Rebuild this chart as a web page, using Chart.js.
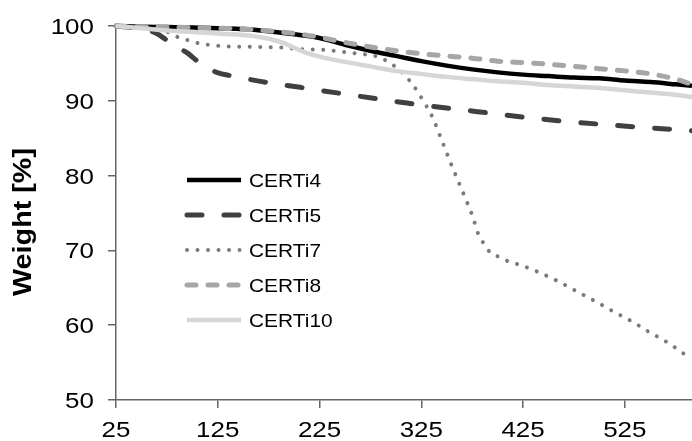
<!DOCTYPE html>
<html><head><meta charset="utf-8">
<script src="https://cdn.jsdelivr.net/npm/chart.js@4.4.1/dist/chart.umd.min.js"></script>
<style>html,body{margin:0;padding:0;background:#fff}canvas{display:block}</style>
</head><body>
<canvas id="c" width="692" height="441"></canvas>
<script>
const xTicks = [25, 125, 225, 325, 425, 525];
const yTicks = [50, 60, 70, 80, 90, 100];
const yTitle = 'Weight [%]';
const seriesNames = ['CERTi4', 'CERTi5', 'CERTi7', 'CERTi8', 'CERTi10'];

const temp4 = [25,50,75,100,125,150,175,200,225,250,275,300,325,350,375,400,425,450,475,500,525,550,575,591];
const weight4 = [100,99.9,99.85,99.8,99.7,99.6,99.3,98.9,98.4,97.5,96.7,96.0,95.3,94.7,94.2,93.8,93.5,93.3,93.1,93.0,92.7,92.5,92.2,92.0];

const temp5 = [25,40,55,65,75,85,95,108,124,140,167,206,245,311,383,455,527,591];
const weight5 = [100,99.8,99.5,99.0,98.1,97.2,96.4,95.0,93.8,93.3,92.6,91.8,91.0,89.7,88.5,87.4,86.6,86.0];

const temp7 = [25,50,70,86,96,106,115,130,160,190,206,230,250,270,282,290,299,307,314,320,326,336,344,355,367,375,381,386,393,402,411,421,440,459,478,496,514,532,550,568,584,591];
const weight7 = [100,99.8,99.5,98.5,98.1,97.7,97.5,97.3,97.2,97.1,96.9,96.8,96.5,96.2,95.9,95.4,94.6,93.7,92.6,91.5,90.2,87.8,85.1,81.3,77.4,74.7,72.2,71.0,69.7,69.1,68.5,68.1,67.1,65.9,64.5,63.2,61.8,60.5,59.0,57.6,56.1,55.5];

const temp8 = [25,50,75,100,125,150,175,200,225,250,275,300,325,350,375,400,425,450,475,500,525,550,575,591];
const weight8 = [100,99.9,99.85,99.8,99.7,99.6,99.35,99.0,98.5,97.8,97.2,96.7,96.3,96.0,95.7,95.3,95.1,94.9,94.6,94.3,94.0,93.6,92.9,92.2];

const temp10 = [25,50,75,100,125,150,175,190,200,210,225,250,275,300,325,350,375,400,425,450,475,500,525,550,575,591];
const weight10 = [100,99.7,99.4,99.2,99.0,98.8,98.3,97.7,97.1,96.5,95.9,95.2,94.6,94.0,93.6,93.2,92.9,92.6,92.4,92.1,91.9,91.7,91.4,91.1,90.8,90.5];

const pts = (t, w) => t.map((x, i) => ({ x: x, y: w[i] }));
const FONT = '"Liberation Sans", Arial, sans-serif';

function drawText(ctx, text, x, y, font, sx, align, baseline) {
  ctx.save();
  ctx.translate(x, y);
  ctx.scale(sx, 1);
  ctx.font = font;
  ctx.fillStyle = '#000';
  ctx.textAlign = align;
  ctx.textBaseline = baseline || 'alphabetic';
  ctx.fillText(text, 0, 0);
  ctx.restore();
}

const overlay = {
  id: 'overlay',
  afterDraw(chart) {
    const ctx = chart.ctx;
    const xs = chart.scales.x, ys = chart.scales.y;
    // tick labels
    xTicks.forEach(v => drawText(ctx, String(v), xs.getPixelForValue(v), 437, '22px ' + FONT, 1.18, 'center'));
    yTicks.forEach(v => drawText(ctx, String(v), 94, ys.getPixelForValue(v) + 8, '22px ' + FONT, 1.18, 'right'));
    // y title
    ctx.save();
    ctx.translate(24, 222);
    ctx.rotate(-Math.PI / 2);
    ctx.scale(1.15, 1);
    ctx.font = 'bold 25px ' + FONT;
    ctx.fillStyle = '#000';
    ctx.textAlign = 'center';
    ctx.textBaseline = 'middle';
    ctx.fillText(yTitle, 0, 0);
    ctx.restore();
    // legend
    chart.data.datasets.forEach((ds, i) => {
      const y = 180 + i * 35;
      ctx.save();
      ctx.strokeStyle = ds.borderColor;
      ctx.lineWidth = ds.borderWidth;
      ctx.lineCap = ds.borderCapStyle;
      ctx.setLineDash(ds.borderDash || []);
      ctx.beginPath();
      ctx.moveTo(187, y);
      ctx.lineTo(241, y);
      ctx.stroke();
      ctx.restore();
      drawText(ctx, ds.label, 249, y + 7, '19px ' + FONT, 1.1, 'left');
    });
  }
};

const common = { pointRadius: 0, fill: false, cubicInterpolationMode: 'monotone', borderCapStyle: 'round', borderJoinStyle: 'round', clip: false };

new Chart(document.getElementById('c'), {
  type: 'line',
  data: {
    datasets: [
      Object.assign({}, common, { label: seriesNames[0], data: pts(temp4, weight4), borderColor: '#000000', borderWidth: 4.5, borderCapStyle: 'butt', borderDash: [], order: 5 }),
      Object.assign({}, common, { label: seriesNames[1], data: pts(temp5, weight5), borderColor: '#404040', borderWidth: 5, borderDash: [15, 22], order: 4 }),
      Object.assign({}, common, { label: seriesNames[2], data: pts(temp7, weight7), borderColor: '#7a7a7a', borderWidth: 4, borderDash: [0.01, 10.5], order: 3 }),
      Object.assign({}, common, { label: seriesNames[3], data: pts(temp8, weight8), borderColor: '#a6a6a6', borderWidth: 5, borderDash: [9, 12], order: 2 }),
      Object.assign({}, common, { label: seriesNames[4], data: pts(temp10, weight10), borderColor: '#d6d6d6', borderWidth: 4.5, borderCapStyle: 'butt', borderDash: [], order: 1 })
    ]
  },
  options: {
    responsive: false,
    animation: false,
    devicePixelRatio: 1,
    layout: { padding: { top: 26, right: 0, bottom: 0, left: 0 } },
    plugins: { legend: { display: false }, tooltip: { enabled: false } },
    scales: {
      x: {
        type: 'linear',
        min: 25, max: 591,
        afterBuildTicks: s => { s.ticks = xTicks.map(v => ({ value: v })); },
        afterFit: s => { s.height = 41; },
        ticks: { display: false },
        grid: { drawOnChartArea: false, drawTicks: true, tickLength: 8, color: '#666', lineWidth: 1.5 },
        border: { color: '#666', width: 1.5 }
      },
      y: {
        min: 50, max: 100,
        afterBuildTicks: s => { s.ticks = yTicks.map(v => ({ value: v })); },
        afterFit: s => { s.width = 116; },
        ticks: { display: false },
        grid: { drawOnChartArea: false, drawTicks: true, tickLength: 8, color: '#666', lineWidth: 1.5 },
        border: { color: '#666', width: 1.5 }
      }
    }
  },
  plugins: [overlay]
});
</script>
</body></html>
